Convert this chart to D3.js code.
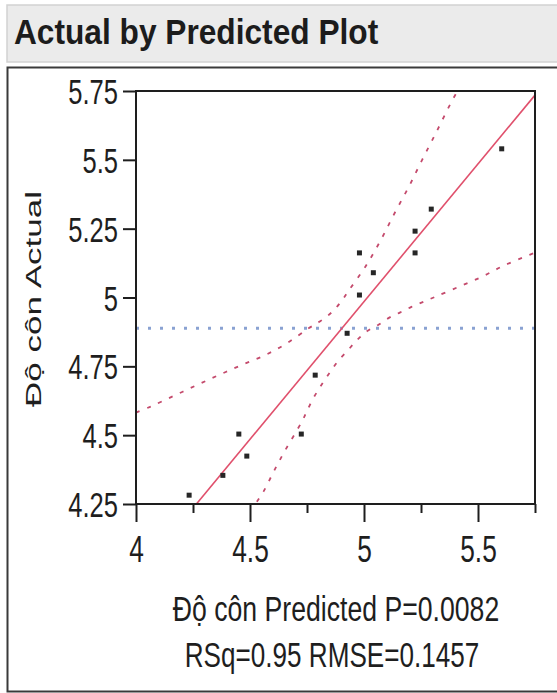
<!DOCTYPE html>
<html><head><meta charset="utf-8">
<script src="https://cdn.jsdelivr.net/npm/d3@7/dist/d3.min.js"></script>
<style>
body{margin:0;background:#fff}
svg{display:block;font-family:"Liberation Sans",Arial,sans-serif}
</style>
</head><body>
<script>
// ---- data ----
const predicted = [5.604, 5.295, 5.224, 5.224, 4.980, 5.041, 4.980, 4.926, 4.786, 4.451, 4.725, 4.486, 4.381, 4.233];
const actual    = [5.540, 5.321, 5.241, 5.162, 5.162, 5.090, 5.009, 4.870, 4.718, 4.504, 4.504, 4.424, 4.354, 4.282];
const meanActual = 4.888;
const fitX = [4.265, 5.75];
const fitY = [4.25, 5.735];
const upperBandX = [4.0, 4.062, 4.164, 4.267, 4.365, 4.464, 4.567, 4.662, 4.757, 4.808, 4.857, 4.896, 4.933, 5.006, 5.072, 5.134, 5.197, 5.255, 5.318, 5.38, 5.41];
const upperBandY = [4.582, 4.603, 4.642, 4.682, 4.719, 4.755, 4.791, 4.834, 4.888, 4.914, 4.945, 4.981, 5.025, 5.112, 5.206, 5.306, 5.403, 5.50, 5.602, 5.705, 5.75];
const lowerBandX = [4.53, 4.559, 4.592, 4.618, 4.655, 4.728, 4.75, 4.779, 4.816, 4.852, 4.886, 4.930, 4.97, 5.014, 5.062, 5.109, 5.157, 5.208, 5.262, 5.314, 5.416, 5.519, 5.614, 5.717, 5.75];
const lowerBandY = [4.258, 4.295, 4.348, 4.39, 4.446, 4.55, 4.588, 4.636, 4.686, 4.73, 4.769, 4.809, 4.846, 4.878, 4.9, 4.926, 4.945, 4.966, 4.985, 5.003, 5.039, 5.076, 5.116, 5.152, 5.163];
const xMajorTicks = [4, 4.5, 5, 5.5];
const xMajorLabels = ["4", "4.5", "5", "5.5"];
const xMinorTicks = [4.25, 4.75, 5.25, 5.75];
const yTicks = [4.25, 4.5, 4.75, 5, 5.25, 5.5, 5.75];
const yTickLabels = ["4.25", "4.5", "4.75", "5", "5.25", "5.5", "5.75"];
const titleText = "Actual by Predicted Plot";
const xTitleText = "Độ côn Predicted P=0.0082";
const statsText = "RSq=0.95 RMSE=0.1457";
const yTitleText = "Độ côn Actual";

// ---- layout ----
const W = 557, H = 693;
const svg = d3.select("body").append("svg").attr("width", W).attr("height", H);
const SX = 0.73; // horizontal squeeze of the reference's text

// header band
svg.append("rect").attr("x", 7).attr("y", 5).attr("width", W).attr("height", 57)
  .attr("fill", "#ebebeb").attr("stroke", "#d2d2d2").attr("stroke-width", 1.5);
svg.append("text").attr("transform", "translate(14,44) scale(0.88,1)")
  .attr("font-size", 36).attr("font-weight", "bold").attr("fill", "#1c1c1c")
  .text(titleText);

// outline panel
svg.append("rect").attr("x", 7.5).attr("y", 67.5).attr("width", W + 10).attr("height", 624)
  .attr("fill", "#fff").attr("stroke", "#3a3a3a").attr("stroke-width", 2);

const x = d3.scaleLinear().domain([4, 5.75]).range([136, 535]);
const y = d3.scaleLinear().domain([4.25, 5.75]).range([504, 91]);

svg.append("defs").append("clipPath").attr("id", "clip")
  .append("rect").attr("x", 136).attr("y", 91).attr("width", 399).attr("height", 413);

const plot = svg.append("g").attr("clip-path", "url(#clip)");

// mean line
plot.append("line")
  .attr("x1", x(4)).attr("x2", x(5.75)).attr("y1", y(meanActual)).attr("y2", y(meanActual))
  .attr("stroke", "#8aa2d2").attr("stroke-width", 3).attr("stroke-dasharray", "3,9");

// confidence curves
const line = d3.line().x(d => x(d[0])).y(d => y(d[1])).curve(d3.curveCatmullRom.alpha(0.5));
const upper = upperBandX.map((v, i) => [v, upperBandY[i]]);
const lower = lowerBandX.map((v, i) => [v, lowerBandY[i]]);
[upper, lower].forEach(pts => {
  plot.append("path").attr("d", line(pts)).attr("fill", "none")
    .attr("stroke", "#c44a6c").attr("stroke-width", 1.8).attr("stroke-dasharray", "4,8");
});

// fit line
plot.append("path").attr("d", line(fitX.map((v, i) => [v, fitY[i]])))
  .attr("fill", "none").attr("stroke", "#e0506c").attr("stroke-width", 1.6);

// points
plot.selectAll("rect.pt").data(predicted.map((p, i) => [p, actual[i]])).enter()
  .append("rect").attr("class", "pt")
  .attr("x", d => x(d[0]) - 2.5).attr("y", d => y(d[1]) - 2.5)
  .attr("width", 5).attr("height", 5).attr("fill", "#262626");

// frame
svg.append("rect").attr("x", 136).attr("y", 91).attr("width", 399).attr("height", 413)
  .attr("fill", "none").attr("stroke", "#1e1e1e").attr("stroke-width", 2);

// y axis
const yAxis = svg.append("g").attr("transform", "translate(136,0)")
  .call(d3.axisLeft(y).tickValues(yTicks).tickFormat((d, i) => yTickLabels[i]).tickSize(13).tickPadding(5));
yAxis.select(".domain").remove();
yAxis.selectAll(".tick line").attr("stroke", "#1e1e1e").attr("stroke-width", 2);
yAxis.selectAll(".tick text")
  .attr("x", -18 / SX).attr("dy", "0.36em")
  .attr("transform", `scale(${SX},1)`)
  .attr("font-size", 35).attr("fill", "#1e1e1e");

// x axis
const xAxis = svg.append("g").attr("transform", "translate(0,504)")
  .call(d3.axisBottom(x).tickValues(xMajorTicks).tickFormat((d, i) => xMajorLabels[i]).tickSize(18).tickPadding(5));
xAxis.select(".domain").remove();
xAxis.selectAll(".tick line").attr("stroke", "#1e1e1e").attr("stroke-width", 2);
xAxis.selectAll(".tick text")
  .attr("y", 58).attr("dy", 0)
  .attr("transform", `scale(${SX},1)`)
  .attr("font-size", 36).attr("fill", "#1e1e1e");
const xMinor = svg.append("g").attr("transform", "translate(0,504)")
  .call(d3.axisBottom(x).tickValues(xMinorTicks).tickFormat("").tickSize(9));
xMinor.select(".domain").remove();
xMinor.selectAll(".tick line").attr("stroke", "#1e1e1e").attr("stroke-width", 2);

// axis titles
svg.append("text").attr("transform", "translate(336,620.5) scale(0.74,1)")
  .attr("text-anchor", "middle").attr("font-size", 36).attr("fill", "#1e1e1e")
  .text(xTitleText);
svg.append("text").attr("transform", "translate(332,667) scale(0.725,1)")
  .attr("text-anchor", "middle").attr("font-size", 36).attr("fill", "#1e1e1e")
  .text(statsText);
svg.append("text").attr("transform", "translate(41,299) scale(0.62,1) rotate(-90)")
  .attr("text-anchor", "middle").attr("font-size", 35).attr("fill", "#1e1e1e")
  .text(yTitleText);
</script>
</body></html>
